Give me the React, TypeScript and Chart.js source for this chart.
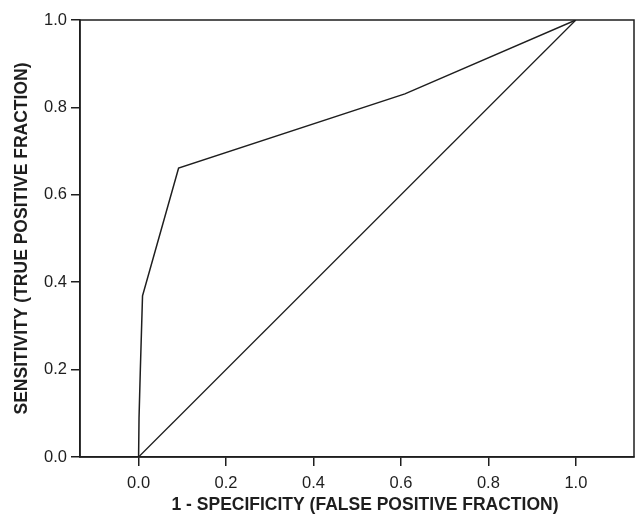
import React, { useEffect, useRef } from "react";
import { Chart, registerables } from "chart.js";

Chart.register(...registerables);

const fprValues = [0, 0.001, 0.004, 0.009, 0.0915, 0.609, 1];
const sensValues = [0, 0.09, 0.2, 0.369, 0.661, 0.831, 1];
const chanceX = [0, 1];
const chanceY = [0, 1];
const xTickValues = [0, 0.2, 0.4, 0.6, 0.8, 1.0];
const yTickValues = [0, 0.2, 0.4, 0.6, 0.8, 1.0];
const xTitle = "1 - SPECIFICITY (FALSE POSITIVE FRACTION)";
const yTitle = "SENSITIVITY (TRUE POSITIVE FRACTION)";

const INK = "#1e1e1e";
const FONT = "'Liberation Sans', Arial, sans-serif";

const boxPlugin = {
  id: "boxPlugin",
  afterDraw(chart: any) {
    const { ctx, chartArea } = chart;
    ctx.save();
    ctx.strokeStyle = INK;
    ctx.lineWidth = 1.5;
    ctx.strokeRect(chartArea.left, chartArea.top, chartArea.right - chartArea.left, chartArea.bottom - chartArea.top);
    // x-axis title (offset to the right as in the reference)
    ctx.fillStyle = INK;
    ctx.font = `bold 17.5px ${FONT}`;
    ctx.textAlign = "center";
    ctx.textBaseline = "middle";
    const cx = (chartArea.left + chartArea.right) / 2 + 8;
    ctx.fillText(xTitle, cx, chart.height - 9);
    ctx.restore();
  },
};

export default function App() {
  const ref = useRef<HTMLCanvasElement | null>(null);
  useEffect(() => {
    if (!ref.current) return;
    const chart = new Chart(ref.current, {
      type: "scatter",
      data: {
        datasets: [
          {
            data: fprValues.map((x, i) => ({ x, y: sensValues[i] })),
            showLine: true,
            borderColor: INK,
            borderWidth: 1.5,
            pointRadius: 0,
            tension: 0,
          },
          {
            data: chanceX.map((x, i) => ({ x, y: chanceY[i] })),
            showLine: true,
            borderColor: INK,
            borderWidth: 1.3,
            pointRadius: 0,
            tension: 0,
          },
        ],
      },
      plugins: [boxPlugin],
      options: {
        responsive: false,
        animation: false,
        devicePixelRatio: 1,
        layout: { padding: { top: 20, right: 1, left: 0, bottom: 0 } },
        plugins: { legend: { display: false }, tooltip: { enabled: false } },
        scales: {
          x: {
            type: "linear",
            min: -0.134,
            max: 1.133,
            afterBuildTicks: (s: any) => {
              s.ticks = xTickValues.map((v) => ({ value: v }));
            },
            afterFit: (s: any) => {
              s.height = 57;
            },
            grid: { drawOnChartArea: false, drawTicks: true, tickLength: 9, color: INK, lineWidth: 1.5 },
            border: { display: true, color: INK, width: 1.5 },
            ticks: {
              color: INK,
              padding: 8,
              font: { family: FONT, size: 16.5 },
              callback: (v: any) => Number(v).toFixed(1),
            },
            title: { display: false },
          },
          y: {
            type: "linear",
            min: 0,
            max: 1,
            afterBuildTicks: (s: any) => {
              s.ticks = yTickValues.map((v) => ({ value: v }));
            },
            afterFit: (s: any) => {
              s.width = 80;
            },
            grid: { drawOnChartArea: false, drawTicks: true, tickLength: 9, color: INK, lineWidth: 1.5 },
            border: { display: true, color: INK, width: 1.5 },
            ticks: {
              color: INK,
              padding: 4,
              font: { family: FONT, size: 16.5 },
              callback: (v: any) => Number(v).toFixed(1),
            },
            title: {
              display: true,
              text: yTitle,
              color: INK,
              font: { family: FONT, size: 17.5, weight: "bold", lineHeight: 1 },
              padding: { top: 13, bottom: 0 },
            },
          },
        },
      },
    } as any);
    return () => chart.destroy();
  }, []);
  return (
    <div style={{ position: "absolute", left: 0, top: 0, width: 635, height: 514, background: "#fff" }}>
      <canvas ref={ref} width={635} height={514} />
    </div>
  );
}
